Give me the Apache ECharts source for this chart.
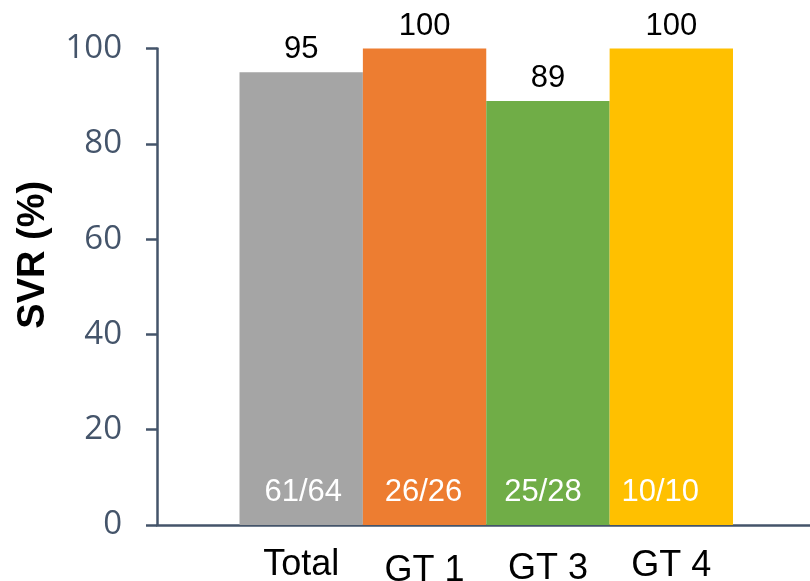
<!DOCTYPE html>
<html>
<head>
<meta charset="utf-8">
<script src="https://cdn.jsdelivr.net/npm/echarts@6/dist/echarts.min.js"></script>
<style>
  html, body { margin: 0; padding: 0; background: #ffffff; }
  #chart { width: 810px; height: 581px; }
</style>
</head>
<body>
<div id="chart"></div>
<script>
// SVR rates by genotype
const categories = ['Total', 'GT 1', 'GT 3', 'GT 4'];
const svrPercent = [95, 100, 89, 100];
const responders = [61, 26, 25, 10];
const patients = [64, 26, 28, 10];
const yTicks = [0, 20, 40, 60, 80, 100];

const barColors = ['#A5A5A5', '#ED7D31', '#70AD47', '#FFC000'];
const axisColor = '#44546A';

// small per-label nudges of the category names and the n/N labels
const catPad = { 'Total': 0, 'GT 1': 6, 'GT 3': 4, 'GT 4': 1 };
const fracShift = [2, -1, -5, -11];

const rich = {};
categories.forEach((c, i) => {
  rich['c' + i] = {
    fontFamily: 'Liberation Sans, Arial, sans-serif',
    fontSize: 36,
    color: '#000000',
    padding: [catPad[c], 0, 0, 0]
  };
});

const chart = echarts.init(document.getElementById('chart'), null, { renderer: 'canvas' });

const option = {
  animation: false,
  backgroundColor: '#ffffff',
  grid: [
    // frame: axis lines, y ticks and labels
    { left: 157, right: 0, top: 48.5, bottom: 56, containLabel: false, outerBoundsMode: 'none' },
    // bars
    { left: 239.5, right: 77, top: 48.5, bottom: 56, containLabel: false, outerBoundsMode: 'none' }
  ],
  xAxis: [
    {
      gridIndex: 0, type: 'value', min: 0, max: 1,
      axisLine: { show: true, lineStyle: { color: axisColor, width: 2.5 } },
      axisTick: { show: false }, axisLabel: { show: false }, splitLine: { show: false }
    },
    {
      gridIndex: 1, type: 'category', data: categories, boundaryGap: true,
      axisLine: { show: false }, axisTick: { show: false }, splitLine: { show: false },
      axisLabel: {
        margin: 22,
        interval: 0,
        formatter: (v, i) => '{c' + i + '|' + v + '}',
        rich: rich
      }
    }
  ],
  yAxis: [
    {
      gridIndex: 0, type: 'value', min: yTicks[0], max: yTicks[yTicks.length - 1], interval: 20,
      axisLine: { show: true, lineStyle: { color: axisColor, width: 2.5 } },
      axisTick: { show: true, inside: false, length: 11, lineStyle: { color: axisColor, width: 2.5 } },
      axisLabel: { color: axisColor, fontFamily: 'Open Sans, sans-serif', fontSize: 33, margin: 35 },
      splitLine: { show: false },
      name: 'SVR (%)',
      nameLocation: 'middle',
      nameRotate: 90,
      nameGap: 104,
      nameTextStyle: {
        fontFamily: 'Liberation Sans, Arial, sans-serif',
        fontSize: 38,
        fontWeight: 'bold',
        color: '#000000',
        padding: [0, 0, 0, 64]
      }
    },
    {
      gridIndex: 1, type: 'value', min: 0, max: 100, show: false
    }
  ],
  series: [
    {
      type: 'bar',
      xAxisIndex: 1, yAxisIndex: 1,
      barCategoryGap: '0%',
      barGap: '-100%',
      data: svrPercent.map((v, i) => ({ value: v, itemStyle: { color: barColors[i] } })),
      label: {
        show: true,
        position: 'top',
        distance: 7,
        color: '#000000',
        fontFamily: 'Liberation Sans, Arial, sans-serif',
        fontSize: 31
      }
    },
    {
      type: 'bar',
      xAxisIndex: 1, yAxisIndex: 1,
      barCategoryGap: '0%',
      barGap: '-100%',
      silent: true,
      data: svrPercent.map((v, i) => ({
        value: v,
        itemStyle: { color: 'rgba(0,0,0,0)' },
        label: { offset: [fracShift[i], 0] }
      })),
      label: {
        show: true,
        position: 'insideBottom',
        distance: 17,
        color: '#ffffff',
        fontFamily: 'Liberation Sans, Arial, sans-serif',
        fontSize: 31,
        formatter: (p) => responders[p.dataIndex] + '/' + patients[p.dataIndex]
      }
    }
  ]
};

chart.setOption(option);
</script>
</body>
</html>
